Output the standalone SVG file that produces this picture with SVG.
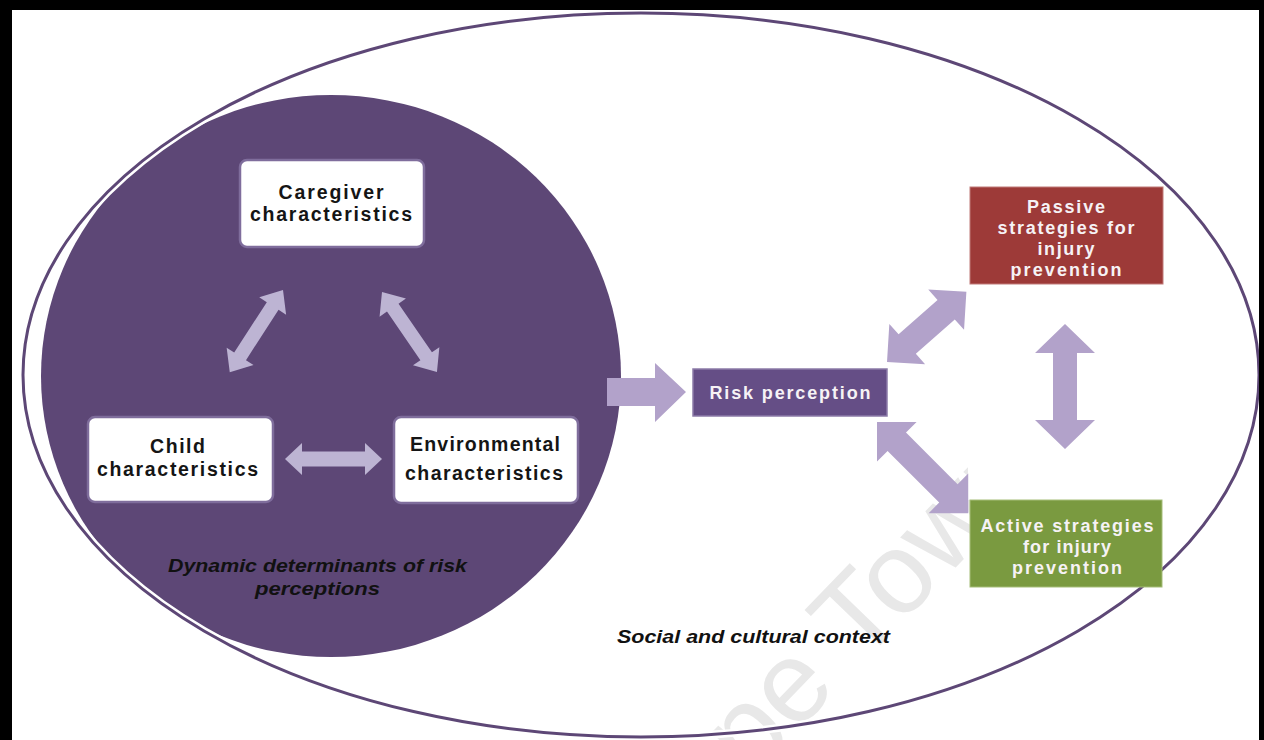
<svg xmlns="http://www.w3.org/2000/svg" width="1264" height="740" viewBox="0 0 1264 740">
  <defs>
    <style>
      .lbl{font-family:"Liberation Sans",Arial,sans-serif;font-weight:bold;font-size:19.5px;text-anchor:middle;fill:#151515}
      .lbl-w{font-family:"Liberation Sans",Arial,sans-serif;font-weight:bold;font-size:18px;text-anchor:middle;fill:#f6f2f5}
      .cap{font-family:"Liberation Sans",Arial,sans-serif;font-weight:bold;font-style:italic;font-size:18px;fill:#111}
      .card{fill:#fff;stroke:#7f6d9c;stroke-width:2.5}
      .arr-in{fill:#bdb4d3}
      .arr-out{fill:#b2a2ca}
      .wm{font-family:"Liberation Sans",Arial,sans-serif;font-size:115px;fill:#e8e8e8}
    </style>
  </defs>

  <!-- page -->
  <rect width="1264" height="740" fill="#fff"/>

  <!-- faint background stamp -->
  <text class="wm" transform="translate(648,886) rotate(-46)">Cape Town</text>
  <rect x="968" y="288" width="198" height="212" fill="#fff"/>

  <!-- determinants disk -->
  <g id="determinants">
    <ellipse cx="331" cy="376" rx="290" ry="281" fill="#5d4776"/>
    <text class="cap" text-anchor="middle" x="317.5" y="572" textLength="299" lengthAdjust="spacingAndGlyphs">Dynamic determinants of risk</text>
    <text class="cap" text-anchor="middle" x="317.5" y="595" textLength="125" lengthAdjust="spacingAndGlyphs">perceptions</text>
  </g>

  <!-- social and cultural context -->
  <g id="context">
    <ellipse cx="641" cy="375" rx="618" ry="362" fill="none" stroke="#fff" stroke-width="8"/>
    <ellipse cx="641" cy="375" rx="618" ry="362" fill="none" stroke="#5d4776" stroke-width="3"/>
    <text class="cap" x="617" y="643" textLength="273" lengthAdjust="spacingAndGlyphs">Social and cultural context</text>
  </g>

  <!-- connectors -->
  <g id="connectors">
    <polygon class="arr-in" transform="translate(283,290) rotate(122.9)" points="0,0 19,-16 19,-7 79,-7 79,-16 98,0 79,16 79,7 19,7 19,16"/>
    <polygon class="arr-in" transform="translate(382,292) rotate(55.5)" points="0,0 19,-16 19,-7 78,-7 78,-16 97,0 78,16 78,7 19,7 19,16"/>
    <polygon class="arr-in" transform="translate(285,459)" points="0,0 17,-16 17,-7.5 80,-7.5 80,-16 97,0 80,16 80,7.5 17,7.5 17,16"/>
    <polygon class="arr-out" points="607,378 655,378 655,363 686,392 655,422 655,406 607,406"/>
    <polygon class="arr-out" transform="translate(887,362) rotate(-41.5)" points="0,0 27,-27 27,-13 79,-13 79,-27 106,0 79,27 79,13 27,13 27,27"/>
    <polygon class="arr-out" transform="translate(877,422) rotate(45)" points="0,0 28,-28 28,-13 101,-13 101,-28 129,0 101,28 101,13 28,13 28,28"/>
    <polygon class="arr-out" transform="translate(1065,324) rotate(90)" points="0,0 29,-30 29,-12 96,-12 96,-30 125,0 96,30 96,12 29,12 29,30"/>
  </g>

  <!-- nodes -->
  <g id="node-caregiver">
    <rect class="card" x="240" y="160" width="184" height="87" rx="7"/>
    <text class="lbl" x="331" y="199" textLength="105" lengthAdjust="spacing">Caregiver</text>
    <text class="lbl" x="331" y="221" textLength="162" lengthAdjust="spacing">characteristics</text>
  </g>
  <g id="node-child">
    <rect class="card" x="88" y="417" width="185" height="85" rx="7"/>
    <text class="lbl" x="177.5" y="453" textLength="55" lengthAdjust="spacing">Child</text>
    <text class="lbl" x="177.5" y="476" textLength="161" lengthAdjust="spacing">characteristics</text>
  </g>
  <g id="node-environmental">
    <rect class="card" x="394" y="417" width="184" height="86" rx="7"/>
    <text class="lbl" x="485" y="451" textLength="150" lengthAdjust="spacing">Environmental</text>
    <text class="lbl" x="484" y="480" textLength="158" lengthAdjust="spacing">characteristics</text>
  </g>
  <g id="node-risk">
    <rect x="693" y="369" width="194" height="47" fill="#654e86" stroke="#8c7ba8" stroke-width="1.5"/>
    <text class="lbl-w" x="790" y="399" textLength="161" lengthAdjust="spacing">Risk perception</text>
  </g>
  <g id="node-passive">
    <rect x="970" y="187" width="193" height="97" fill="#9d3a38" stroke="#c07a78" stroke-width="1"/>
    <text class="lbl-w" x="1066" y="213" textLength="78" lengthAdjust="spacing">Passive</text>
    <text class="lbl-w" x="1066" y="234" textLength="137" lengthAdjust="spacing">strategies for</text>
    <text class="lbl-w" x="1066" y="255" textLength="57" lengthAdjust="spacing">injury</text>
    <text class="lbl-w" x="1066" y="276" textLength="111" lengthAdjust="spacing">prevention</text>
  </g>
  <g id="node-active">
    <rect x="970" y="500" width="192" height="87" fill="#7a9a40" stroke="#a5bd78" stroke-width="1"/>
    <text class="lbl-w" x="1067" y="532" textLength="173" lengthAdjust="spacing">Active strategies</text>
    <text class="lbl-w" x="1067" y="553" textLength="88" lengthAdjust="spacing">for injury</text>
    <text class="lbl-w" x="1067" y="574" textLength="110" lengthAdjust="spacing">prevention</text>
  </g>

  <!-- frame -->
  <g id="frame" fill="#000">
    <rect x="0" y="0" width="1264" height="10"/>
    <rect x="0" y="0" width="12" height="740"/>
    <rect x="1259" y="0" width="5" height="740"/>
  </g>
</svg>
